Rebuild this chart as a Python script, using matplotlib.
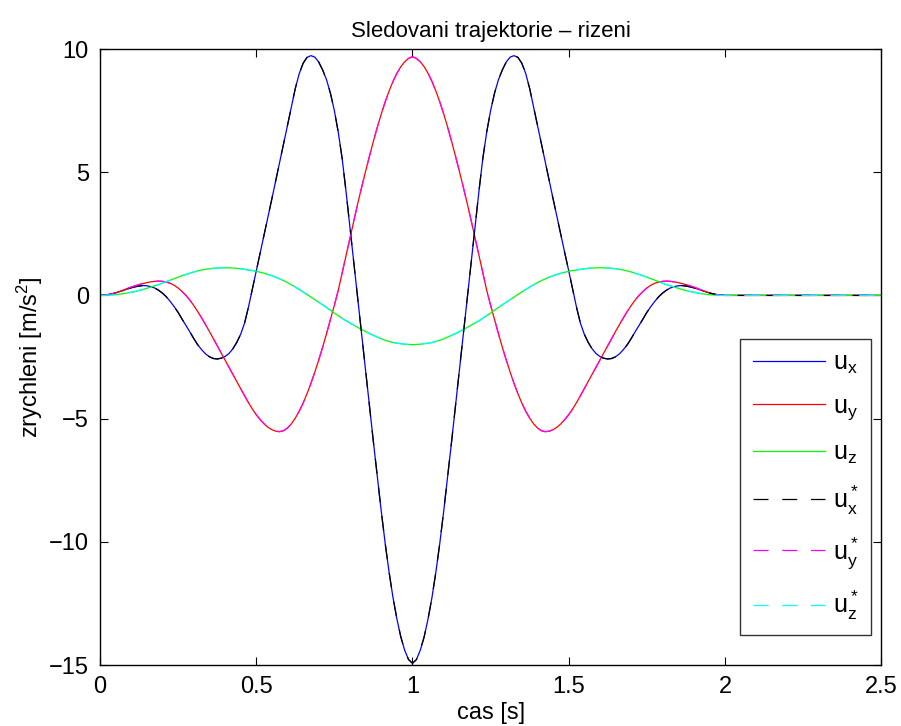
import numpy as np
import matplotlib
matplotlib.use("Agg")
import matplotlib.pyplot as plt

# time grid 0..2 s (step 0.0125), then the flat tail up to 2.5 s
t = list(np.linspace(0, 2, 161)) + [2.5]

# control inputs: first half 0..1 s, second half 1..2 s
ux_a = [0.00, 0.01, 0.03, 0.06, 0.10, 0.15, 0.20, 0.26, 0.31, 0.35,
        0.38, 0.40, 0.39, 0.36, 0.30, 0.21, 0.09, -0.06, -0.25, -0.46,
        -0.69, -0.96, -1.22, -1.48, -1.75, -2.00, -2.20, -2.37, -2.49, -2.56,
        -2.58, -2.55, -2.48, -2.36, -2.17, -1.91, -1.58, -1.13, -0.48, 0.25,
        1.00, 1.72, 2.45, 3.18, 3.92, 4.66, 5.40, 6.13, 6.90, 7.65,
        8.40, 9.00, 9.42, 9.66, 9.73, 9.67, 9.47, 9.15, 8.75, 8.20,
        7.50, 6.62, 5.55, 4.20, 2.75, 1.30, -0.15, -1.60, -3.05, -4.50,
        -5.95, -7.35, -8.75, -10.05, -11.22, -12.25, -13.12, -13.85, -14.40, -14.78,
        -14.93]
ux_b = [-14.78, -14.40, -13.85, -13.12, -12.25, -11.22, -10.05, -8.75, -7.35, -5.95,
        -4.50, -3.05, -1.60, -0.15, 1.30, 2.75, 4.20, 5.55, 6.62, 7.50,
        8.20, 8.75, 9.15, 9.47, 9.67, 9.73, 9.66, 9.42, 9.00, 8.40,
        7.65, 6.90, 6.13, 5.40, 4.66, 3.92, 3.18, 2.45, 1.72, 1.00,
        0.25, -0.48, -1.13, -1.58, -1.91, -2.17, -2.36, -2.48, -2.55, -2.58,
        -2.56, -2.49, -2.37, -2.20, -2.00, -1.75, -1.48, -1.22, -0.96, -0.69,
        -0.46, -0.25, -0.06, 0.09, 0.21, 0.30, 0.36, 0.39, 0.40, 0.38,
        0.35, 0.31, 0.26, 0.20, 0.15, 0.10, 0.06, 0.03, 0.01, 0.00,
        0.00]

uy_a = [0.00, 0.01, 0.03, 0.06, 0.11, 0.16, 0.22, 0.28, 0.34, 0.39,
        0.44, 0.48, 0.52, 0.55, 0.57, 0.58, 0.57, 0.54, 0.49, 0.41,
        0.30, 0.16, 0.00, -0.19, -0.41, -0.65, -0.91, -1.18, -1.46, -1.75,
        -2.04, -2.33, -2.62, -2.91, -3.20, -3.49, -3.78, -4.07, -4.35, -4.61,
        -4.84, -5.04, -5.21, -5.35, -5.45, -5.51, -5.53, -5.49, -5.38, -5.21,
        -4.98, -4.70, -4.37, -3.99, -3.57, -3.11, -2.62, -2.10, -1.55, -0.98,
        -0.40, 0.21, 0.92, 1.64, 2.36, 3.06, 3.74, 4.40, 5.04, 5.66,
        6.26, 6.83, 7.36, 7.85, 8.29, 8.68, 9.01, 9.28, 9.48, 9.62,
        9.69]
uy_b = [9.62, 9.48, 9.28, 9.01, 8.68, 8.29, 7.85, 7.36, 6.83, 6.26,
        5.66, 5.04, 4.40, 3.74, 3.06, 2.36, 1.64, 0.92, 0.21, -0.40,
        -0.98, -1.55, -2.10, -2.62, -3.11, -3.57, -3.99, -4.37, -4.70, -4.98,
        -5.21, -5.38, -5.49, -5.53, -5.51, -5.45, -5.35, -5.21, -5.04, -4.84,
        -4.61, -4.35, -4.07, -3.78, -3.49, -3.20, -2.91, -2.62, -2.33, -2.04,
        -1.75, -1.46, -1.18, -0.91, -0.65, -0.41, -0.19, 0.00, 0.16, 0.30,
        0.41, 0.49, 0.54, 0.57, 0.58, 0.57, 0.55, 0.52, 0.48, 0.44,
        0.39, 0.34, 0.28, 0.22, 0.16, 0.11, 0.06, 0.03, 0.01, 0.00,
        0.00]

uz_a = [0.00, 0.00, 0.01, 0.02, 0.03, 0.05, 0.07, 0.10, 0.13, 0.16,
        0.20, 0.24, 0.29, 0.34, 0.39, 0.44, 0.50, 0.56, 0.62, 0.68,
        0.74, 0.80, 0.85, 0.90, 0.95, 0.99, 1.03, 1.06, 1.08, 1.10,
        1.11, 1.12, 1.12, 1.12, 1.11, 1.10, 1.08, 1.06, 1.03, 1.01,
        0.98, 0.94, 0.90, 0.85, 0.80, 0.74, 0.67, 0.60, 0.52, 0.43,
        0.34, 0.24, 0.14, 0.04, -0.07, -0.17, -0.28, -0.38, -0.49, -0.60,
        -0.72, -0.82, -0.93, -1.03, -1.12, -1.21, -1.30, -1.39, -1.47, -1.55,
        -1.62, -1.69, -1.76, -1.82, -1.87, -1.91, -1.94, -1.96, -1.98, -1.99,
        -2.00]
uz_b = [-1.99, -1.98, -1.96, -1.94, -1.91, -1.87, -1.82, -1.76, -1.69, -1.62,
        -1.55, -1.47, -1.39, -1.30, -1.21, -1.12, -1.03, -0.93, -0.82, -0.72,
        -0.60, -0.49, -0.38, -0.28, -0.17, -0.07, 0.04, 0.14, 0.24, 0.34,
        0.43, 0.52, 0.60, 0.67, 0.74, 0.80, 0.85, 0.90, 0.94, 0.98,
        1.01, 1.03, 1.06, 1.08, 1.10, 1.11, 1.12, 1.12, 1.12, 1.11,
        1.10, 1.08, 1.06, 1.03, 0.99, 0.95, 0.90, 0.85, 0.80, 0.74,
        0.68, 0.62, 0.56, 0.50, 0.44, 0.39, 0.34, 0.29, 0.24, 0.20,
        0.16, 0.13, 0.10, 0.07, 0.05, 0.03, 0.02, 0.01, 0.00, 0.00,
        0.00]

ux = ux_a + ux_b
uy = uy_a + uy_b
uz = uz_a + uz_b

# reference inputs lie on top of the actual ones
ux_ref = ux
uy_ref = uy
uz_ref = uz

plt.rcParams['font.family'] = ['Liberation Sans', 'DejaVu Sans']
plt.rcParams['mathtext.fontset'] = 'custom'
plt.rcParams['mathtext.rm'] = 'Liberation Sans'
plt.rcParams['mathtext.it'] = 'Liberation Sans'

fig = plt.figure(figsize=(9.01, 7.26), dpi=100)
ax = fig.add_axes([0.111, 0.084, 0.867, 0.8485])

lw = 0.9
dash = (12, 11)
ax.plot(t, ux, color=(0, 0, 1), lw=lw, label=r'$\mathregular{u_x}$')
ax.plot(t, uy, color=(1, 0, 0), lw=lw, label=r'$\mathregular{u_y}$')
ax.plot(t, uz, color=(0, 1, 0), lw=lw, label=r'$\mathregular{u_z}$')
ax.plot(t, ux_ref, color='k', lw=lw, dashes=dash, label=r'$\mathregular{u_x^*}$')
ax.plot(t, uy_ref, color=(1, 0, 1), lw=lw, dashes=dash, label=r'$\mathregular{u_y^*}$')
ax.plot(t, uz_ref, color=(0, 1, 1), lw=lw, dashes=dash, label=r'$\mathregular{u_z^*}$')

ax.set_xlim(0, 2.5)
ax.set_ylim(-15, 10)
ax.set_xticks([0, 0.5, 1, 1.5, 2, 2.5])
ax.set_xticklabels(['0', '0.5', '1', '1.5', '2', '2.5'])
ax.set_yticks([-15, -10, -5, 0, 5, 10])
ax.tick_params(direction='in', top=True, right=True, length=6, width=0.8,
               labelsize=17, pad=8)
for s in ax.spines.values():
    s.set_linewidth(1.0)

ax.set_title('Sledovani trajektorie \u2013 rizeni', fontsize=16, pad=9)
ax.set_xlabel('cas [s]', fontsize=17, labelpad=3)
ax.set_ylabel(r'zrychleni [m/s$^\mathregular{2}$]', fontsize=17, labelpad=3)

leg = ax.legend(loc='lower right', bbox_to_anchor=(0.987, 0.049),
                fontsize=18, handlelength=2.9, labelspacing=0.72,
                borderpad=0.5, handletextpad=0.3, borderaxespad=0.0,
                frameon=True, fancybox=False, edgecolor='k')
leg.get_frame().set_linewidth(1.0)

fig.savefig('out.png', dpi=100)
